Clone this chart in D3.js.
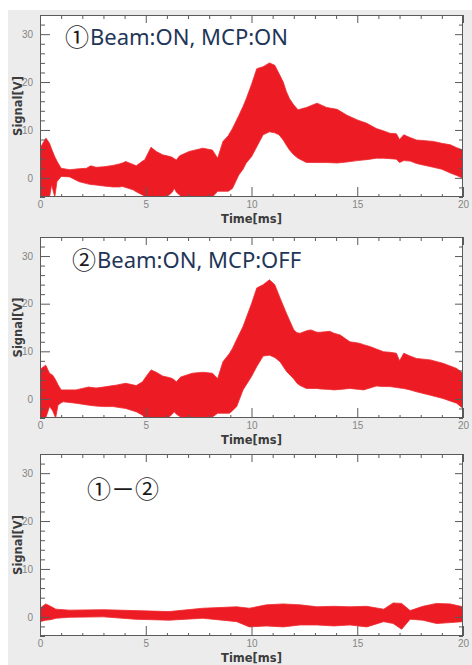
<!DOCTYPE html>
<html>
<head>
<meta charset="utf-8">
<script src="https://cdn.jsdelivr.net/npm/d3@7"></script>
<style>
  body { margin: 0; background: #fff; }
  .tick text { font-family: "Liberation Sans", Arial, sans-serif; font-size: 10px; fill: #858585; }
  .tick line { stroke: #5a5a5a; }
  .title { font-family: "DejaVu Sans", sans-serif; font-weight: bold; font-size: 11.5px; fill: #3c3c3c; }
</style>
</head>
<body>
<div id="chart"></div>
<script>
var width = 472,
    height = 665,
    left = 40,
    right = 463;

var xDomain = [0, 20],
    yDomain = [-4, 34],
    xMajor = [0, 5, 10, 15, 20],
    yMajor = [0, 10, 20, 30];

// ① Beam:ON, MCP:ON  -- envelope of the signal band
var time1 = [0, 0.28, 0.45, 0.55, 0.7, 0.8, 1.0, 1.4, 1.85, 2.2, 2.4, 2.65, 3.0, 3.45, 3.75, 3.9, 4.05, 4.4, 4.55, 4.85, 4.95,
    5.25, 5.5, 5.8, 6.1, 6.25, 6.35, 6.45, 6.6, 6.7, 7.05, 7.7, 8.15, 8.4, 8.65, 8.9, 9.1, 9.4, 9.6, 9.75, 10.0,
    10.25, 10.55, 10.85, 11.1, 11.3, 11.5, 11.65, 11.8, 12.0, 12.2, 12.6, 13.1, 13.55, 14.05, 14.5, 15.0, 15.45, 15.9,
    16.25, 16.55, 16.85, 17.0, 17.2, 17.5, 17.8, 18.1, 18.6, 19.0, 19.4, 19.7, 20];
var upper1 = [6.2, 8.3, 7.2, 6.0, 4.4, 3.5, 2.0, 1.7, 1.9, 2.0, 2.5, 2.2, 2.3, 2.6, 2.9, 3.1, 3.4, 2.8, 2.5, 3.5, 3.75,
    6.4, 5.5, 4.8, 4.5, 4.3, 4.0, 3.75, 4.6, 4.8, 5.5, 6.2, 5.8, 4.1, 7.6, 8.8, 10.3, 13.0, 14.9, 16.5, 19.5,
    22.8, 23.2, 24.0, 23.5, 21.8, 20.0, 18.0, 16.5, 15.2, 14.2, 14.7, 15.6, 14.7, 14.3, 13.1, 12.1, 11.4, 10.3,
    9.8, 9.3, 9.2, 8.0, 9.0, 8.4, 7.9, 7.8, 7.6, 7.2, 6.9, 6.3, 5.8];
var lower1 = [-4, -4, -4, -1.5, -4, -0.8, 0.3, 0.2, -0.8, -1.2, -1.4, -1.5, -1.7, -1.9, -1.9, -1.8, -2.0, -2.5, -2.9, -3.6, -4,
    -4, -4, -4, -3.6, -3.0, -2.2, -3.0, -3.6, -4, -4, -4, -4, -2.8, -2.8, -2.8, -2.2, 0.6, 1.8, 3.1, 4.4,
    6.5, 9.0, 9.6, 9.4, 9.0, 7.9, 6.8, 5.8, 4.8, 4.1, 3.2, 3.2, 3.2, 3.1, 3.3, 3.6, 3.8, 4.1,
    4.1, 4.0, 3.9, 3.2, 3.6, 3.5, 3.0, 2.7, 2.2, 1.8, 1.0, 0.5, -0.1];

// ② Beam:ON, MCP:OFF
var time2 = [0, 0.27, 0.45, 0.6, 0.74, 0.85, 1.0, 1.1, 1.7, 2.3, 2.65, 3.0, 3.45, 3.6, 4.05, 4.55, 4.85, 4.95,
    5.25, 5.5, 5.8, 6.1, 6.25, 6.35, 6.45, 6.65, 7.2, 7.7, 8.15, 8.4, 8.65, 8.95, 9.1, 9.3, 9.6, 10.0,
    10.25, 10.55, 10.85, 11.1, 11.35, 11.65, 12.0, 12.15, 12.3, 12.6, 12.8, 13.1, 13.25, 13.7, 13.9, 14.2, 14.65,
    15.1, 15.3, 15.6, 15.9, 16.25, 16.55, 16.85, 17.0, 17.2, 17.5, 17.8, 18.45, 19.05, 19.7, 20];
var upper2 = [6.2, 7.1, 5.4, 5.0, 4.0, 3.0, 1.9, 1.9, 1.9, 2.5, 2.3, 2.5, 2.8, 2.9, 3.3, 2.8, 3.6, 4.3,
    6.1, 5.6, 4.8, 4.5, 4.3, 4.0, 3.6, 4.6, 5.4, 5.6, 5.4, 4.3, 7.8, 9.5, 10.6, 12.5, 15.2, 20.0,
    23.3, 24.0, 25.0, 24.0, 21.2, 18.0, 14.5, 13.9, 13.8, 14.3, 14.5, 14.0, 14.0, 14.2, 13.8, 13.4, 12.0,
    11.7, 11.4, 11.0, 10.5, 9.9, 9.8, 9.6, 8.0, 9.6, 9.0, 8.5, 8.2, 7.5, 6.4, 5.4];
var lower2 = [-4, -4, -1.6, -2.5, -4, -1.3, -0.8, -0.6, -0.9, -1.3, -1.5, -1.6, -1.6, -1.7, -2.0, -2.7, -3.4, -4,
    -4, -4, -4, -3.8, -3.2, -2.7, -3.2, -3.8, -3.8, -3.8, -3.8, -3.0, -3.0, -3.0, -2.5, -1.6, 1.9, 4.7,
    6.8, 9.0, 9.2, 8.7, 7.8, 5.8, 4.2, 3.3, 2.8, 2.2, 2.2, 2.2, 2.1, 2.0, 1.9, 2.0, 2.2,
    2.0, 1.9, 2.3, 2.7, 2.6, 2.6, 2.4, 2.3, 2.2, 1.9, 1.5, 0.8, 0.1, -0.9, -2.0];

// ①－② difference
var time3 = [0, 0.27, 0.5, 0.75, 1.4, 3.0, 4.5, 6.1, 7.7, 9.3, 9.9, 10.7, 11.5, 12.3, 13.1, 13.9, 14.65,
    15.45, 16.25, 16.7, 17.1, 17.5, 18.1, 18.75, 19.4, 20];
var upper3 = [1.8, 2.7, 2.2, 1.6, 1.4, 1.5, 1.3, 1.1, 1.8, 2.1, 1.8, 2.5, 2.7, 2.5, 2.1, 2.2, 2.1,
    2.2, 1.6, 2.9, 2.8, 1.3, 2.2, 2.8, 2.7, 2.1];
var lower3 = [-1.0, -0.7, -0.6, -0.3, -0.1, 0.0, -0.5, -0.7, -0.3, -1.0, -2.1, -1.9, -2.1, -1.7, -1.7, -1.9, -1.7,
    -2.1, -1.0, -1.4, -2.6, -0.5, -0.7, -1.4, -1.2, -1.0];

var panels = [
    { top: 15, bottom: 197, time: time1, upper: upper1, lower: lower1, mark: "①", markX: 65, markY: 46, text: "Beam:ON, MCP:ON", textX: 90, textY: 45 },
    { top: 237, bottom: 418, time: time2, upper: upper2, lower: lower2, mark: "②", markX: 72, markY: 269, text: "Beam:ON, MCP:OFF", textX: 97, textY: 268 },
    { top: 454, bottom: 636, time: time3, upper: upper3, lower: lower3, mark: "①－②", markX: 87, markY: 498, text: "", textX: 0, textY: 0 }
];

var svg = d3.select("#chart").append("svg")
    .attr("width", width)
    .attr("height", height)
    .style("display", "block");

// window-like grey backdrop
svg.append("rect")
    .attr("x", 8).attr("y", 10)
    .attr("width", width - 8).attr("height", height - 10)
    .attr("fill", "#ececec");

var x = d3.scaleLinear().domain(xDomain).range([left, right]);

panels.forEach(function (p, k) {
    var y = d3.scaleLinear().domain(yDomain).range([p.bottom, p.top]);
    var g = svg.append("g");

    g.append("rect")
        .attr("x", left).attr("y", p.top)
        .attr("width", right - left).attr("height", p.bottom - p.top)
        .attr("fill", "#fff");

    g.append("clipPath").attr("id", "clip" + k)
        .append("rect")
        .attr("x", left).attr("y", p.top)
        .attr("width", right - left).attr("height", p.bottom - p.top);

    var area = d3.area()
        .x(function (d, i) { return x(p.time[i]); })
        .y0(function (d, i) { return y(p.lower[i]); })
        .y1(function (d, i) { return y(p.upper[i]); });

    g.append("path")
        .datum(p.time)
        .attr("clip-path", "url(#clip" + k + ")")
        .attr("d", area)
        .attr("fill", "#ed1c24")
        .attr("stroke", "#ee2a30")
        .attr("stroke-width", 0.8);

    var xMinor = d3.range(0, 21, 1).filter(function (v) { return v % 5; });
    var yMinor = d3.range(-4, 35, 2).filter(function (v) { return v % 10; });

    // bottom
    g.append("g").attr("transform", "translate(0," + p.bottom + ")")
        .call(d3.axisBottom(x).tickValues(xMinor).tickSize(-3).tickFormat(""));
    g.append("g").attr("transform", "translate(0," + p.bottom + ")")
        .call(d3.axisBottom(x).tickValues(xMajor).tickSize(-10).tickPadding(4).tickFormat(d3.format("d")));
    // top
    g.append("g").attr("transform", "translate(0," + p.top + ")")
        .call(d3.axisTop(x).tickValues(xMinor).tickSize(-4).tickFormat(""));
    g.append("g").attr("transform", "translate(0," + p.top + ")")
        .call(d3.axisTop(x).tickValues(xMajor).tickSize(-8).tickFormat(""));
    // left
    g.append("g").attr("transform", "translate(" + left + ",0)")
        .call(d3.axisLeft(y).tickValues(yMinor).tickSize(-5).tickFormat(""));
    g.append("g").attr("transform", "translate(" + left + ",0)")
        .call(d3.axisLeft(y).tickValues(yMajor).tickSize(-10).tickPadding(7).tickFormat(d3.format("d")));
    // right
    g.append("g").attr("transform", "translate(" + right + ",0)")
        .call(d3.axisRight(y).tickValues(yMinor).tickSize(-4).tickFormat(""));
    g.append("g").attr("transform", "translate(" + right + ",0)")
        .call(d3.axisRight(y).tickValues(yMajor).tickSize(-8).tickFormat(""));

    g.selectAll(".domain").remove();

    g.append("rect")
        .attr("x", left + 0.5).attr("y", p.top + 0.5)
        .attr("width", right - left - 1).attr("height", p.bottom - p.top - 1)
        .attr("fill", "none")
        .attr("stroke", "#5a5a5a");

    g.append("text").attr("class", "title")
        .attr("x", (left + right) / 2).attr("y", p.bottom + 26)
        .attr("text-anchor", "middle")
        .text("Time[ms]");

    g.append("text").attr("class", "title")
        .attr("transform", "translate(22," + (p.top + p.bottom) / 2 + ") rotate(-90)")
        .attr("text-anchor", "middle")
        .text("Signal[V]");

    g.append("text")
        .attr("x", p.markX).attr("y", p.markY)
        .style("font-family", "'Noto Sans CJK JP', sans-serif")
        .style("font-size", "24px")
        .attr("fill", "#1a1a1a")
        .text(p.mark);

    if (p.text) {
        g.append("text")
            .attr("x", p.textX).attr("y", p.textY)
            .style("font-family", "'Noto Sans', sans-serif")
            .style("font-size", "22px")
            .attr("fill", "#1f3658")
            .text(p.text);
    }
});
</script>
</body>
</html>
